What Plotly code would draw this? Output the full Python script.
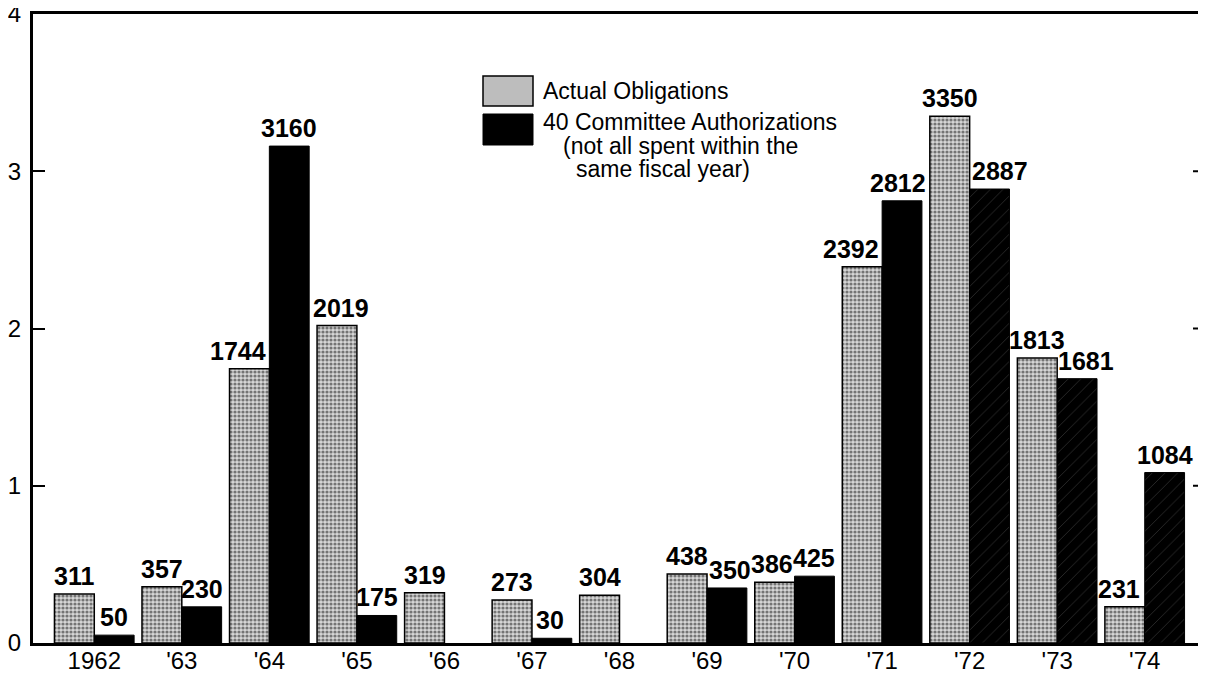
import plotly.graph_objects as go

years = ["1962", "'63", "'64", "'65", "'66", "'67", "'68", "'69", "'70", "'71", "'72", "'73", "'74"]
actual = [311, 357, 1744, 2019, 319, 273, 304, 438, 386, 2392, 3350, 1813, 231]
committee = [50, 230, 3160, 175, None, 30, None, 350, 425, 2812, 2887, 1681, 1084]
y_ticks = [0, 1, 2, 3, 4]

# style only: horizontal nudges (px) of value labels, as in the original typesetting
nudge_actual = [0, 0, -11, 4, 0, 0, 0, 0, -3, -11, 0, 0, -6]
nudge_committee = [0, 0, 0, 0, 0, -2, 0, 3, 0, -4, 10, 9, 0]
hatch_committee = ["", "", "", "", "", "", "", "", "", "", "/", "/", "/"]

def scale(v):
    return [None if x is None else x / 1000 for x in v]

LBL = dict(family="Liberation Sans, Arial, sans-serif", size=25, color="black", weight="bold")

BARGAP = 0.09
fig = go.Figure()
fig.add_trace(go.Bar(
    x=years, y=scale(actual), name="Actual Obligations",
    marker=dict(color="#cfcfcf", line=dict(color="black", width=1.5),
                pattern=dict(shape=".", fgcolor="#111", bgcolor="#d6d6d6", size=4, solidity=0.5)),
))
fig.add_trace(go.Bar(
    x=years, y=scale(committee), name="40 Committee Authorizations",
    marker=dict(color="black", line=dict(color="black", width=1),
                pattern=dict(shape=hatch_committee, fgcolor="#6a6a6a", bgcolor="black", size=9, solidity=0.08)),
))

# page has an 8px body margin: figure drawn at (8,8) in a 1206x677 window
OFF = 8
W, H = 1206 - OFF, 677 - OFF
L, R, T, B = 33 - OFF, 0, 14 - OFF, 677 - 643
pw, ph = W - L - R, H - T - B

def px(x):
    return (x - OFF - L) / pw

def py(y):
    return (H - B - (y - OFF)) / ph

annotations = []
half = (1 - BARGAP) / 4  # centre offset of each bar within its group (category units)
for series, nudges, sign in [(actual, nudge_actual, -1), (committee, nudge_committee, 1)]:
    for i, v in enumerate(series):
        if v is None:
            continue
        annotations.append(dict(xref="x", yref="y", x=i + sign * half, y=v / 1000, text=str(v),
                                showarrow=False, xanchor="center", yanchor="bottom",
                                xshift=nudges[i], yshift=3, font=LBL, borderpad=0))

shapes = []
for k in [1, 2, 3]:
    shapes.append(dict(type="line", xref="paper", yref="y", x0=1 - 13 / pw, x1=1, y0=k, y1=k,
                       line=dict(color="black", width=2)))
# legend swatches
shapes.append(dict(type="rect", xref="paper", yref="paper", x0=px(483), x1=px(533), y0=py(106), y1=py(76),
                   fillcolor="#bdbdbd", line=dict(color="black", width=1.5)))
shapes.append(dict(type="rect", xref="paper", yref="paper", x0=px(483), x1=px(533), y0=py(145), y1=py(114),
                   fillcolor="black", line=dict(color="black", width=1)))

LEG = dict(family="Liberation Sans, Arial, sans-serif", size=23, color="black")
for x, y, t in [(542, 91, "Actual Obligations"), (542, 122, "40 Committee Authorizations"),
                (562, 146, "(not all spent within the"), (575, 169, "same fiscal year)")]:
    annotations.append(dict(xref="paper", yref="paper", x=px(x), y=py(y), text=t, showarrow=False,
                            xanchor="left", yanchor="middle", font=LEG, borderpad=0))

TICK = dict(family="Liberation Sans, Arial, sans-serif", size=24, color="black")
fig.update_layout(
    width=W, height=H,
    margin=dict(l=L, r=R, t=T, b=B, autoexpand=False),
    paper_bgcolor="white", plot_bgcolor="white",
    barmode="group", bargap=BARGAP, bargroupgap=0.0,
    showlegend=False,
    shapes=shapes, annotations=annotations,
    xaxis=dict(type="category", range=[-0.7, 12.7], showline=True, linecolor="black", linewidth=3,
               mirror=True, ticks="", tickfont=TICK, ticklabelstandoff=-6, showgrid=False, zeroline=False),
    yaxis=dict(range=[0, 4], tickvals=y_ticks, showline=True, linecolor="black", linewidth=3,
               ticks="inside", ticklen=12, tickwidth=2, tickcolor="black", tickfont=TICK,
               ticklabelstandoff=4, ticklabeloverflow="allow", showgrid=False, zeroline=False),
)
fig.write_html("out.html")
